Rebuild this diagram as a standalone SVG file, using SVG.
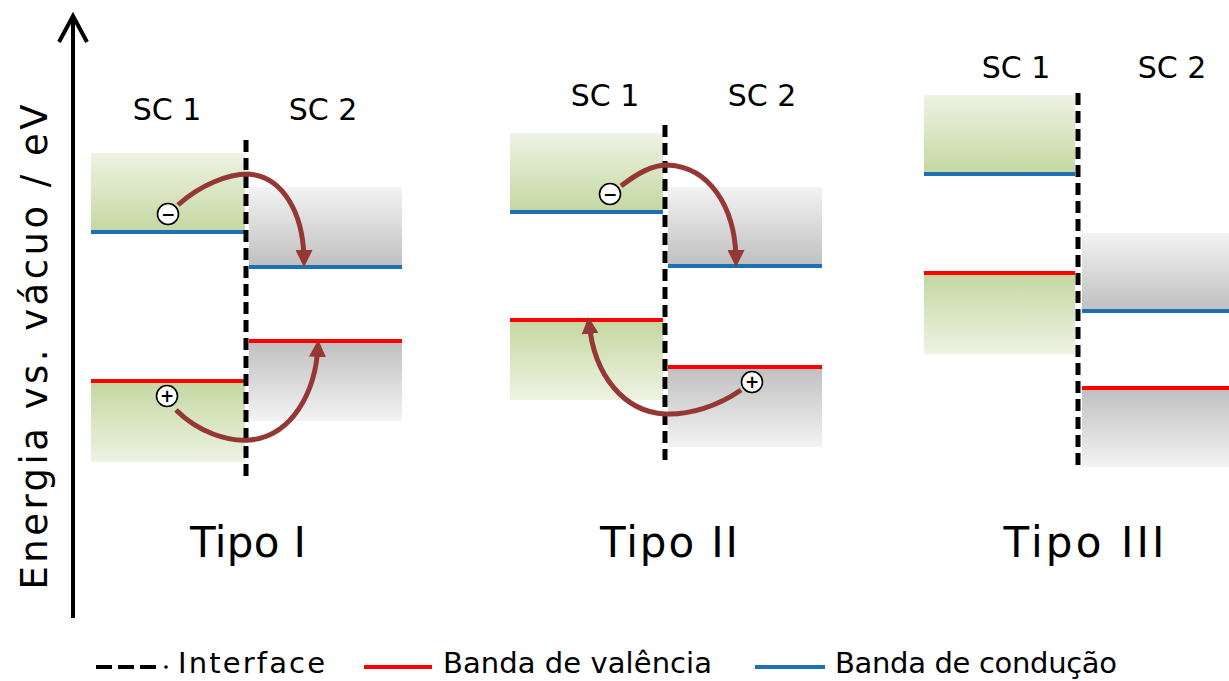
<svg xmlns="http://www.w3.org/2000/svg" width="1229" height="681" viewBox="0 0 1229 681">
  <style>
    .lbl { font-family: "DejaVu Sans", "Noto Sans", "Open Sans", sans-serif; fill: #000; }
    .sc { font-size: 30px; text-anchor: middle; }
    .tipo { font-size: 42px; text-anchor: middle; }
    .leg { font-size: 29px; }
    .cb { stroke: #1f6fb5; stroke-width: 4; }
    .vb { stroke: #ff0000; stroke-width: 4; }
    .iface { stroke: #000; stroke-width: 5; stroke-dasharray: 12 6; fill: none; }
    .jump { fill: none; stroke: #953735; stroke-width: 5; marker-end: url(#head); }
    .chg { fill: #fff; stroke: #000; stroke-width: 1.6; }
    .sign { font-family: "DejaVu Sans", sans-serif; font-size: 17px; font-weight: bold; text-anchor: middle; }
  </style>
  <defs>
    <linearGradient id="greenUp" x1="0" y1="0" x2="0" y2="1">
      <stop offset="0" stop-color="#eef3e4"/>
      <stop offset="1" stop-color="#c4d7a0"/>
    </linearGradient>
    <linearGradient id="greenDown" x1="0" y1="0" x2="0" y2="1">
      <stop offset="0" stop-color="#c4d7a0"/>
      <stop offset="1" stop-color="#eef3e4"/>
    </linearGradient>
    <linearGradient id="grayUp" x1="0" y1="0" x2="0" y2="1">
      <stop offset="0" stop-color="#f3f3f3"/>
      <stop offset="1" stop-color="#bfbfbf"/>
    </linearGradient>
    <linearGradient id="grayDown" x1="0" y1="0" x2="0" y2="1">
      <stop offset="0" stop-color="#bfbfbf"/>
      <stop offset="1" stop-color="#f3f3f3"/>
    </linearGradient>
    <marker id="head" viewBox="0 0 10 10" refX="7" refY="5" markerWidth="17" markerHeight="17" markerUnits="userSpaceOnUse" orient="auto">
      <path d="M0,0 L10,5 L0,10 z" fill="#953735"/>
    </marker>
  </defs>

  <rect width="1229" height="681" fill="#fff"/>

  <!-- energy axis -->
  <g id="axis">
    <line x1="73" y1="16" x2="73" y2="618" stroke="#000" stroke-width="4"/>
    <polyline points="59,42 73,16 87,42" fill="none" stroke="#000" stroke-width="4" stroke-linejoin="miter"/>
    <text class="lbl" font-size="37" text-anchor="middle" textLength="485" transform="translate(47,347) rotate(-90)">Energia vs. vácuo / eV</text>
  </g>

  <!-- Tipo I : straddling -->
  <g id="tipo1">
    <rect x="91" y="153" width="154" height="79" fill="url(#greenUp)"/>
    <rect x="91" y="381" width="154" height="81" fill="url(#greenDown)"/>
    <rect x="249" y="187" width="153" height="80" fill="url(#grayUp)"/>
    <rect x="249" y="341" width="153" height="80" fill="url(#grayDown)"/>
    <line class="cb" x1="91" y1="232" x2="245" y2="232"/>
    <line class="vb" x1="91" y1="381" x2="245" y2="381"/>
    <line class="cb" x1="249" y1="267" x2="402" y2="267"/>
    <line class="vb" x1="249" y1="341" x2="402" y2="341"/>
    <line class="iface" x1="246" y1="140" x2="246" y2="478"/>
    <text class="lbl sc" x="167" y="120">SC 1</text>
    <text class="lbl sc" x="323" y="120">SC 2</text>
    <text class="lbl tipo" x="248" y="557" textLength="116">Tipo I</text>
  </g>

  <!-- Tipo II : staggered -->
  <g id="tipo2">
    <rect x="510" y="133" width="153" height="79" fill="url(#greenUp)"/>
    <rect x="510" y="320" width="153" height="80" fill="url(#greenDown)"/>
    <rect x="668" y="187" width="154" height="79" fill="url(#grayUp)"/>
    <rect x="668" y="367" width="154" height="80" fill="url(#grayDown)"/>
    <line class="cb" x1="510" y1="212" x2="663" y2="212"/>
    <line class="vb" x1="510" y1="320" x2="663" y2="320"/>
    <line class="cb" x1="668" y1="266" x2="822" y2="266"/>
    <line class="vb" x1="668" y1="367" x2="822" y2="367"/>
    <line class="iface" x1="665" y1="125" x2="665" y2="460"/>
    <text class="lbl sc" x="605" y="106">SC 1</text>
    <text class="lbl sc" x="762" y="106">SC 2</text>
    <text class="lbl tipo" x="669" y="557" textLength="138">Tipo II</text>
  </g>

  <!-- Tipo III : broken gap -->
  <g id="tipo3">
    <rect x="924" y="95" width="151" height="79" fill="url(#greenUp)"/>
    <rect x="924" y="273" width="151" height="81" fill="url(#greenDown)"/>
    <rect x="1082" y="233" width="147" height="78" fill="url(#grayUp)"/>
    <rect x="1082" y="388" width="147" height="79" fill="url(#grayDown)"/>
    <line class="cb" x1="924" y1="174" x2="1075" y2="174"/>
    <line class="vb" x1="924" y1="273" x2="1075" y2="273"/>
    <line class="cb" x1="1082" y1="311" x2="1229" y2="311"/>
    <line class="vb" x1="1082" y1="388" x2="1229" y2="388"/>
    <line class="iface" x1="1078" y1="93" x2="1078" y2="470"/>
    <text class="lbl sc" x="1016" y="78">SC 1</text>
    <text class="lbl sc" x="1172" y="78">SC 2</text>
    <text class="lbl tipo" x="1084" y="557" textLength="161">Tipo III</text>
  </g>

  <!-- charge transfer arrows -->
  <g id="connectors">
    <path class="jump" d="M178,205 C200,185 228,174 248,174 C282,176 304,212 304,262"/>
    <path class="jump" d="M176,410 C198,432 228,442 250,440 C292,436 316,392 318,345"/>
    <path class="jump" d="M621,186 C638,173 652,165 668,165 C708,167 736,205 736,262"/>
    <path class="jump" d="M741,390 C718,406 690,415 665,414 C626,412 594,378 589,322"/>
  </g>

  <!-- charge carriers -->
  <g id="carriers">
    <circle class="chg" cx="168" cy="214" r="10.5"/>
    <text class="sign" x="168" y="220">−</text>
    <circle class="chg" cx="167" cy="396" r="10.5"/>
    <text class="sign" x="167" y="402">+</text>
    <circle class="chg" cx="610" cy="194" r="10.5"/>
    <text class="sign" x="610" y="200">−</text>
    <circle class="chg" cx="752" cy="382" r="10.5"/>
    <text class="sign" x="752" y="388">+</text>
  </g>

  <!-- legend -->
  <g id="legend">
    <line x1="96" y1="667" x2="156" y2="667" stroke="#000" stroke-width="4" stroke-dasharray="16 6"/>
    <circle cx="166" cy="667" r="1.8" fill="#000"/>
    <text class="lbl leg" x="178" y="673" textLength="147">Interface</text>
    <line class="vb" x1="364" y1="667" x2="432" y2="667"/>
    <text class="lbl leg" x="443" y="673" textLength="269">Banda de valência</text>
    <line class="cb" x1="755" y1="667" x2="825" y2="667"/>
    <text class="lbl leg" x="835" y="673" textLength="282">Banda de condução</text>
  </g>
</svg>
